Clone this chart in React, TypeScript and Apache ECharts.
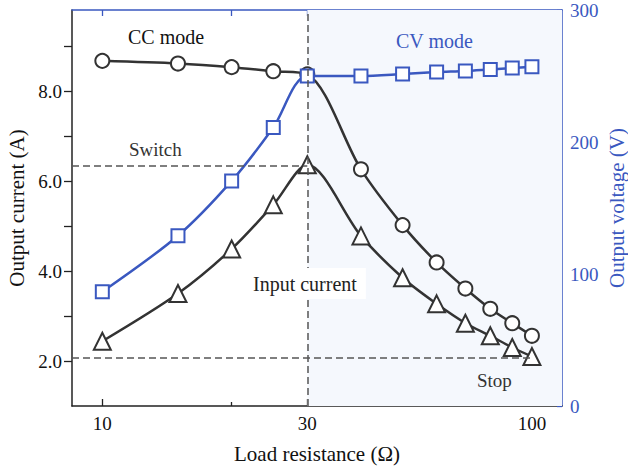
import React, { useEffect, useRef } from "react";
import * as echarts from "echarts";

// Load resistance (Ω) for every measurement
const RESISTANCE = [10, 15, 20, 25, 30, 40, 50, 60, 70, 80, 90, 100];
// Output current (A)
const OUTPUT_CURRENT = [8.67, 8.61, 8.53, 8.44, 8.37, 6.26, 5.02, 4.19, 3.61, 3.16, 2.84, 2.56];
// Input current (A)
const INPUT_CURRENT = [2.44, 3.5, 4.49, 5.47, 6.36, 4.78, 3.85, 3.27, 2.84, 2.56, 2.3, 2.1];
// Output voltage (V)
const OUTPUT_VOLTAGE = [86.6, 129, 170.5, 211, 250, 250, 251.5, 253, 253.8, 255, 256, 257];

// Reference levels
const SWITCH_RESISTANCE = 30;
const SWITCH_CURRENT = 6.33;
const STOP_CURRENT = 2.08;
const STOP_RESISTANCE = 100;

// Axis ticks and labels
const X_MIN = 8.5;
const X_MAX = 117.5;
const X_MAJOR = [10, 30, 100];
const X_MINOR = [20, 40, 50, 60, 70, 80, 90];
const X_ALL = [10, 20, 30, 40, 50, 60, 70, 80, 90, 100];
const Y_LEFT_TICKS = [2, 3, 4, 5, 6, 7, 8, 9];
const Y_LEFT_LABELS = [2, 4, 6, 8];
const Y_RIGHT_LABELS = [0, 100, 200, 300];

const DARK = "#333333";
const BLUE = "#3a58c0";
const FONT = "Liberation Serif";

export default function App() {
  const ref = useRef<HTMLDivElement>(null);

  useEffect(() => {
    if (!ref.current) return;
    const chart = echarts.init(ref.current, null, { renderer: "svg" });

    const pairs = (ys: number[]) => RESISTANCE.map((x, i) => [x, ys[i]]);
    const dashed = { color: "#555", width: 1.5, type: [7, 4] as number[] };

    const xBase = {
      type: "log" as const,
      logBase: 10,
      min: X_MIN,
      max: X_MAX,
      gridIndex: 0,
      splitLine: { show: false },
      minorTick: { show: false },
    };

    chart.setOption({
      animation: false,
      backgroundColor: "#ffffff",
      textStyle: { fontFamily: FONT },
      grid: { left: 72, right: 66, top: 10, bottom: 61, outerBoundsMode: "none" },
      xAxis: [
        {
          ...xBase,
          position: "bottom",
          name: "Load resistance (Ω)",
          nameLocation: "middle",
          nameGap: 37,
          nameTextStyle: { fontFamily: FONT, fontSize: 21, color: "#111" },
          axisLine: { lineStyle: { color: "#222", width: 1.5 } },
          axisTick: {
            inside: true,
            length: 7,
            customValues: X_MAJOR,
            lineStyle: { color: "#222", width: 1.3 },
          },
          axisLabel: {
            customValues: X_MAJOR,
            margin: 8,
            fontFamily: FONT,
            fontSize: 19,
            color: "#111",
          },
        },
        {
          ...xBase,
          position: "bottom",
          axisLine: { show: false },
          axisTick: {
            inside: true,
            length: 4,
            customValues: X_MINOR,
            lineStyle: { color: "#222", width: 1.3 },
          },
          axisLabel: { show: false },
        },
        {
          ...xBase,
          position: "top",
          axisLine: { lineStyle: { color: BLUE, width: 1.5 } },
          axisTick: {
            inside: true,
            length: 6,
            customValues: X_ALL,
            lineStyle: { color: BLUE, width: 1.3 },
          },
          axisLabel: { show: false },
        },
      ],
      yAxis: [
        {
          type: "value",
          position: "left",
          min: 1,
          max: 9.8,
          interval: 1,
          name: "Output current (A)",
          nameLocation: "middle",
          nameGap: 44,
          nameTextStyle: { fontFamily: FONT, fontSize: 21, color: "#111" },
          splitLine: { show: false },
          axisLine: { show: true, lineStyle: { color: "#222", width: 1.5 } },
          axisTick: {
            show: true,
            length: 8,
            customValues: Y_LEFT_TICKS,
            lineStyle: { color: "#222", width: 1.3 },
          },
          axisLabel: {
            customValues: Y_LEFT_LABELS,
            formatter: (v: number) => v.toFixed(1),
            margin: 10,
            fontFamily: FONT,
            fontSize: 19,
            color: "#111",
          },
        },
        {
          type: "value",
          position: "right",
          min: 0,
          max: 300,
          interval: 50,
          name: "Output voltage (V)",
          nameLocation: "middle",
          nameGap: 44,
          nameMoveOverlap: false,
          nameTextStyle: { fontFamily: FONT, fontSize: 21, color: BLUE },
          splitLine: { show: false },
          axisLine: { show: true, lineStyle: { color: BLUE, width: 1.5 } },
          axisTick: {
            show: true,
            inside: true,
            length: 5,
            lineStyle: { color: BLUE, width: 1.3 },
          },
          axisLabel: {
            customValues: Y_RIGHT_LABELS,
            margin: 8,
            fontFamily: FONT,
            fontSize: 19,
            color: BLUE,
          },
        },
      ],
      series: [
        {
          // CV-mode region and reference lines
          type: "line",
          xAxisIndex: 0,
          yAxisIndex: 0,
          data: [],
          silent: true,
          z: 1,
          markArea: {
            silent: true,
            itemStyle: { color: "#f5f8fd" },
            data: [[{ xAxis: SWITCH_RESISTANCE }, { xAxis: X_MAX }]],
          },
          markLine: {
            silent: true,
            symbol: "none",
            label: { show: false },
            lineStyle: dashed,
            data: [
              { xAxis: SWITCH_RESISTANCE },
              [{ coord: [X_MIN, SWITCH_CURRENT] }, { coord: [SWITCH_RESISTANCE, SWITCH_CURRENT] }],
              [{ coord: [X_MIN, STOP_CURRENT] }, { coord: [STOP_RESISTANCE, STOP_CURRENT] }],
            ],
          },
        },
        {
          name: "Output current",
          type: "line",
          xAxisIndex: 0,
          yAxisIndex: 0,
          smooth: 0.3,
          data: pairs(OUTPUT_CURRENT),
          symbol: "circle",
          symbolSize: 14,
          z: 3,
          lineStyle: { color: DARK, width: 2.5 },
          itemStyle: { color: "#fff", borderColor: DARK, borderWidth: 2 },
        },
        {
          name: "Input current",
          type: "line",
          xAxisIndex: 0,
          yAxisIndex: 0,
          smooth: 0.3,
          data: pairs(INPUT_CURRENT),
          symbol: "triangle",
          symbolSize: 17,
          z: 3,
          lineStyle: { color: DARK, width: 2.5 },
          itemStyle: { color: "#fff", borderColor: DARK, borderWidth: 2 },
        },
        {
          name: "Output voltage",
          type: "line",
          xAxisIndex: 0,
          yAxisIndex: 1,
          smooth: 0.3,
          data: pairs(OUTPUT_VOLTAGE),
          symbol: "rect",
          symbolSize: 13,
          z: 4,
          lineStyle: { color: BLUE, width: 2.5 },
          itemStyle: { color: "#fff", borderColor: BLUE, borderWidth: 2 },
        },
      ],
      graphic: [
        {
          type: "text",
          left: 128,
          top: 27,
          z: 10,
          style: { text: "CC mode", font: `20px "${FONT}"`, fill: "#111" },
        },
        {
          type: "text",
          left: 396,
          top: 31,
          z: 10,
          style: { text: "CV mode", font: `20px "${FONT}"`, fill: BLUE },
        },
        {
          type: "text",
          left: 129,
          top: 140,
          z: 10,
          style: { text: "Switch", font: `19px "${FONT}"`, fill: "#333" },
        },
        {
          type: "text",
          left: 240,
          top: 268,
          z: 10,
          style: {
            text: "Input current",
            font: `20px "${FONT}"`,
            fill: "#222",
            backgroundColor: "#ffffff",
            padding: [6, 9, 5, 13],
          },
        },
        {
          type: "text",
          left: 477,
          top: 371,
          z: 10,
          style: { text: "Stop", font: `19px "${FONT}"`, fill: "#333" },
        },
      ],
    });

    return () => chart.dispose();
  }, []);

  return (
    <div
      ref={ref}
      style={{ position: "fixed", left: 0, top: 0, width: 628, height: 467 }}
    />
  );
}
